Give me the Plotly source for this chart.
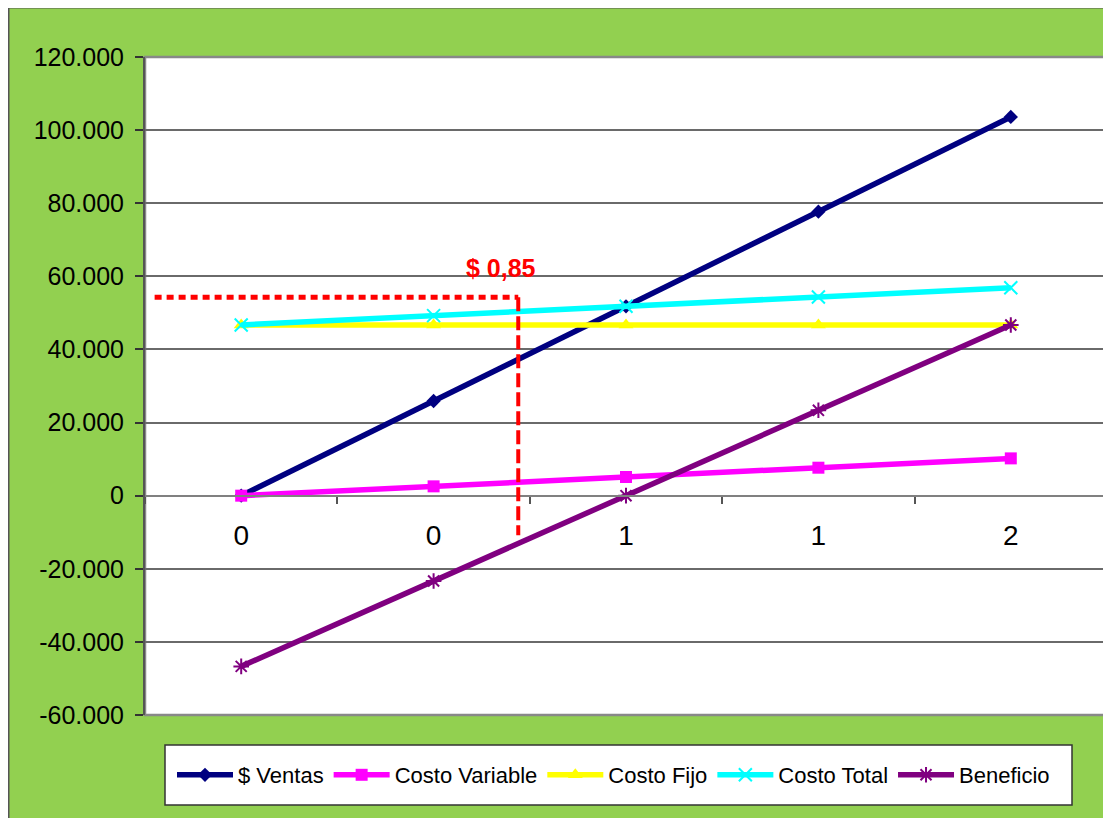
import plotly.graph_objects as go

# ---- data ----
categories = ["0", "0", "1", "1", "2"]
ventas = [0, 25900, 51800, 77700, 103600]
costo_variable = [0, 2550, 5100, 7650, 10200]
costo_fijo = [46700, 46700, 46700, 46700, 46700]
costo_total = [46700, 49250, 51800, 54350, 56900]
beneficio = [-46700, -23350, 0, 23350, 46700]

y_ticks = [-60000, -40000, -20000, 0, 20000, 40000, 60000, 80000, 100000, 120000]
y_tick_labels = ["-60.000", "-40.000", "-20.000", "0", "20.000", "40.000",
                 "60.000", "80.000", "100.000", "120.000"]

# guide lines for the annotated price
guide_x = 1.44
guide_y = 54300
guide_x_start = -0.45
guide_y_end = -10800
guide_label = "$ 0,85"
guide_label_pos = (1.35, 62300)

W, H = 1111, 818
OFF = 8  # page body margin
L, R, T, B = 145 - OFF, 12, 57 - OFF, 111
pw, ph = W - L - R, H - T - B

xs = list(range(len(categories)))

fig = go.Figure()

series = [
    ("$ Ventas", ventas, "#000080", "diamond", 11, None),
    ("Costo Variable", costo_variable, "#FF00FF", "square", 12, None),
    ("Costo Fijo", costo_fijo, "#FFFF00", "triangle-up", 13, None),
    ("Costo Total", costo_total, "#00FFFF", "x-thin-open", 13, 2),
    ("Beneficio", beneficio, "#800080", "asterisk-open", 13, 2),
]
for name, vals, color, sym, size, mlw in series:
    marker = dict(symbol=sym, size=size, color=color)
    if mlw:
        marker["line"] = dict(color=color, width=mlw)
    fig.add_trace(go.Scatter(
        x=xs, y=vals, name=name, mode="lines+markers",
        line=dict(color=color, width=5.5), marker=marker,
    ))

def px2paper_x(px):  # screenshot px -> paper
    return (px - OFF - L) / pw

def px2paper_y(py):
    return (H - B - (py - OFF)) / ph

shapes = [
    # outer frame border
    dict(type="rect", xref="paper", yref="paper",
         x0=px2paper_x(8.5), x1=px2paper_x(1130), y0=px2paper_y(840), y1=px2paper_y(7.5),
         fillcolor="rgba(0,0,0,0)", line=dict(color="#555555", width=2), layer="below"),
    # legend box
    dict(type="rect", xref="paper", yref="paper",
         x0=px2paper_x(165), x1=px2paper_x(1072), y0=px2paper_y(805), y1=px2paper_y(745),
         fillcolor="white", line=dict(color="#333333", width=1.5), layer="below"),
    # plot area border
    dict(type="rect", xref="paper", yref="paper", x0=0, x1=1, y0=0, y1=1,
         line=dict(color="#888888", width=2.5), fillcolor="rgba(0,0,0,0)", layer="between"),
    # horizontal dotted guide
    dict(type="line", xref="x", yref="y", x0=guide_x_start, x1=guide_x, y0=guide_y, y1=guide_y,
         line=dict(color="#FF0000", width=5, dash="7px,5px"), layer="above"),
    # vertical dashed guide
    dict(type="line", xref="x", yref="y", x0=guide_x, x1=guide_x, y0=guide_y, y1=guide_y_end,
         line=dict(color="#FF0000", width=4, dash="14px,5px"), layer="above"),
]

fig.update_layout(
    width=W, height=H,
    margin=dict(l=L, r=R, t=T, b=B),
    paper_bgcolor="#92D050",
    plot_bgcolor="white",
    font=dict(family="Liberation Sans, Arial, sans-serif", color="black"),
    shapes=shapes,
    showlegend=True,
    legend=dict(
        orientation="h", x=px2paper_x(172), y=px2paper_y(775), xanchor="left", yanchor="middle",
        bgcolor="rgba(0,0,0,0)", borderwidth=0,
        font=dict(size=22, family="Liberation Sans, Arial, sans-serif"),
        itemwidth=56, tracegroupgap=0,
    ),
    annotations=[dict(
        x=guide_label_pos[0], y=guide_label_pos[1], xref="x", yref="y",
        text="<b>" + guide_label + "</b>", showarrow=False,
        font=dict(color="#FF0000", size=25, family="Liberation Sans, Arial, sans-serif"),
    )],
)

fig.update_xaxes(
    range=[-0.5, 4.5], tickmode="array", tickvals=xs, ticktext=categories,
    anchor="free", position=1 / 3,
    showgrid=False, zeroline=False,
    showline=True, linecolor="#808080", linewidth=2,
    ticks="", ticklabelstandoff=15,
    tickfont=dict(size=28),
    minor=dict(tickmode="array", tickvals=[-0.5, 0.5, 1.5, 2.5, 3.5, 4.5],
               ticks="outside", ticklen=7, tickcolor="#555555", tickwidth=1.5),
)
fig.update_yaxes(
    range=[-60000, 120000], tickmode="array", tickvals=y_ticks, ticktext=y_tick_labels,
    showgrid=True, gridcolor="#6a6a6a", gridwidth=1.5,
    zeroline=False,
    showline=True, linecolor="#555555", linewidth=2,
    ticks="outside", ticklen=8, tickcolor="#333333", tickwidth=1.5,
    ticklabelstandoff=6,
    tickfont=dict(size=25),
)

fig.write_html("out.html")
